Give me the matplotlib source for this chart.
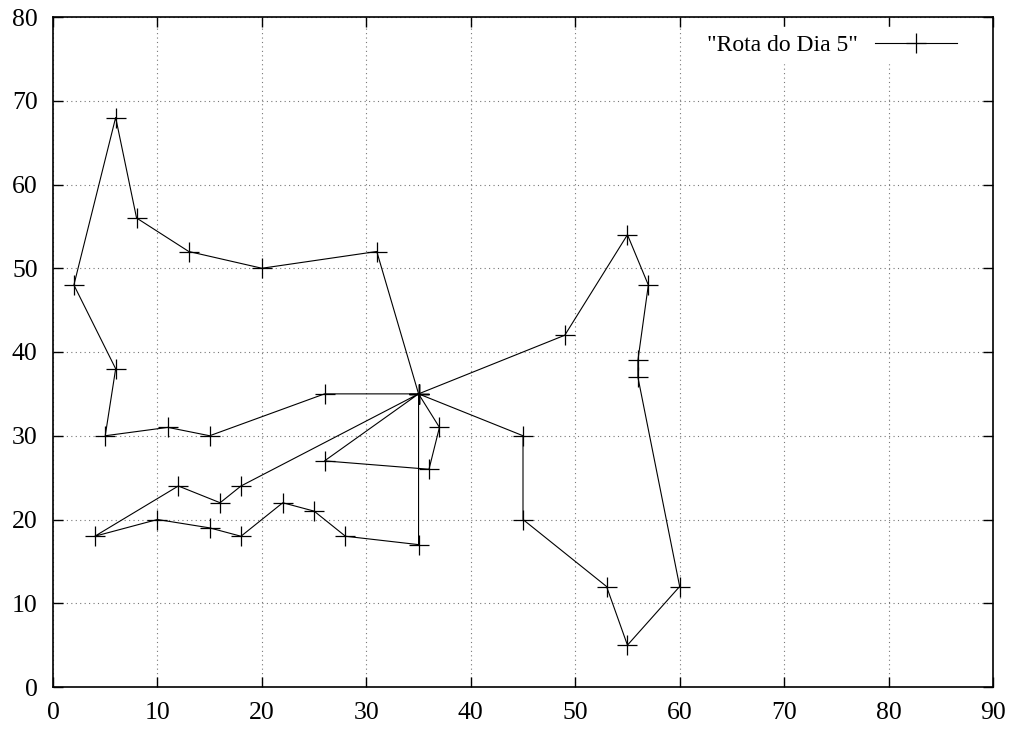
import matplotlib.pyplot as plt

# Route for day 5 (depot at 35,35), in visiting order
route_x = [35, 31, 20, 13, 8, 6, 2, 6, 5, 11, 15, 26, 35,
           49, 55, 57, 56, 56, 60, 55, 53, 45, 45, 35,
           37, 36, 26, 35,
           18, 16, 12, 4, 10, 15, 18, 22, 25, 28, 35, 35]
route_y = [35, 52, 50, 52, 56, 68, 48, 38, 30, 31, 30, 35, 35,
           42, 54, 48, 39, 37, 12, 5, 12, 20, 30, 35,
           31, 26, 27, 35,
           24, 22, 24, 18, 20, 19, 18, 22, 21, 18, 17, 35]
series_label = '"Rota do Dia 5"'
x_ticks = list(range(0, 100, 10))
y_ticks = list(range(0, 90, 10))

plt.rcParams["font.family"] = ["Liberation Serif", "DejaVu Serif"]

fig = plt.figure(figsize=(10.16, 7.33), dpi=100)
ax = fig.add_axes([53 / 1016, 46 / 733, 940 / 1016, 670 / 733])

ax.plot(route_x, route_y, color="black", linewidth=0.8, marker="+",
        markersize=14, markeredgewidth=0.9, label=series_label)

ax.set_xlim(0, 90)
ax.set_ylim(0, 80)
ax.set_xticks(x_ticks)
ax.set_yticks(y_ticks)
ax.grid(True, color="#777777", linestyle=(0, (1, 3)), linewidth=0.8)
ax.set_axisbelow(True)
ax.tick_params(direction="in", length=7, width=1, top=True, right=True,
               labelsize=18.5)
ax.tick_params(axis="x", pad=11)
ax.tick_params(axis="y", pad=11)
for sp in ax.spines.values():
    sp.set_linewidth(1.2)

leg = ax.legend(loc="upper right", bbox_to_anchor=(0.982, 1.002),
                markerfirst=False, handlelength=3.5, handletextpad=0.7,
                frameon=True, fancybox=False, edgecolor="white",
                facecolor="white", framealpha=1, fontsize=17, borderpad=0.3)

fig.savefig("out.png", dpi=100)
